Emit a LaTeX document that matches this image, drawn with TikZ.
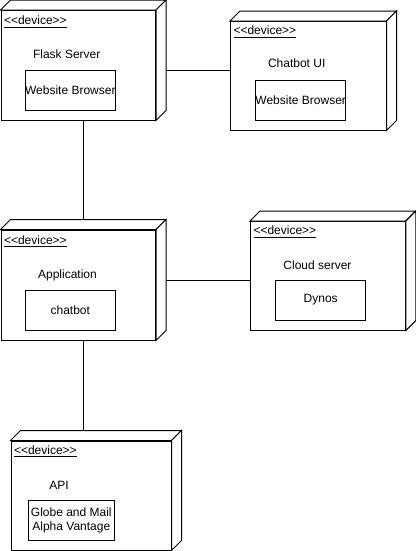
\documentclass[tikz,border=0pt]{standalone}
\usepackage{fontspec}
\setmainfont{Liberation Sans}
\usetikzlibrary{calc,fit}
% three-dimensional node faces (top and right side) behind a front rectangle
\newcommand\devfaces[1]{%
  \draw[fill=white] (#1.north west) -- ++(10,-10) -- ($(#1.north east)+(10,-10)$) -- (#1.north east) -- cycle;
  \draw[fill=white] (#1.north east) -- ++(10,-10) -- ($(#1.south east)+(10,-10)$) -- (#1.south east) -- cycle;}
\newcommand\stereotype{\underline{<\kern0pt<device>\kern0pt>}}
\begin{document}
\begin{tikzpicture}[x=0.75pt,y=-0.75pt,line width=0.75pt,
  every node/.style={font=\fontsize{9pt}{10.5pt}\selectfont},
  devfront/.style={draw,fill=white,inner sep=0pt},
  inbox/.style={draw,fill=white,inner sep=0pt,minimum width=67.5pt,minimum height=30pt},
  stereo/.style={anchor=west,inner sep=0pt},
  title/.style={inner sep=0pt},
  link/.style={draw}]
\useasboundingbox (0,0) rectangle (416,551);

% device nodes
\node[devfront,fit={(1,10.5) (155.5,120)}] (flask) {};
\devfaces{flask}
\node[devfront,fit={(230.5,21.5) (386,130)}] (ui) {};
\devfaces{ui}
\node[devfront,fit={(1,230) (155.5,340)}] (app) {};
\devfaces{app}
\node[devfront,fit={(250.5,221.5) (405.3,330)}] (cloud) {};
\devfaces{cloud}
\node[devfront,fit={(11,441) (171,550)}] (api) {};
\devfaces{api}

% stereotypes
\node[stereo] (s1) at ($(flask.north west)+(3,12)$) {\stereotype};
\node[stereo] (s2) at ($(ui.north west)+(3,11)$) {\stereotype};
\node[stereo] (s3) at ($(app.north west)+(3,12)$) {\stereotype};
\node[stereo] (s4) at ($(cloud.north west)+(3,11)$) {\stereotype};
\node[stereo] (s5) at ($(api.north west)+(3,11)$) {\stereotype};

% titles
\node[title] (t1) at (66.7,54) {Flask Server};
\node[title] (t2) at (296.7,63.5) {Chatbot UI};
\node[title] (t3) at (67.5,275) {Application};
\node[title] (t4) at (317.5,265) {Cloud server};
\node[title] (t5) at (59,485) {API};

% inner components
\node[inbox] (b1) at (70.3,90) {\makebox[0pt]{Website Browser}};
\node[inbox] (b2) at (300.7,100) {\makebox[0pt]{Website Browser}};
\node[inbox] (b3) at (70.3,310) {chatbot};
\node[inbox] (b4) at (320.7,300) {Dynos};
\node[inbox,minimum width=64.5pt,align=center] (b5) at (71.3,520) {Globe and Mail\\Alpha Vantage};

% connectors
\coordinate (c1) at ($(flask.south)+(5,0)$);
\coordinate (c2) at ($(app.north)+(0,-10)$);
\draw[link] (c1) -- (c1 |- c2);
\coordinate (c3) at ($(app.south)+(5,0)$);
\coordinate (c4) at ($(api.north)+(0,-10)$);
\draw[link] (c3) -- (c3 |- c4);
\coordinate (c5) at ($(flask.east)+(10,5)$);
\draw[link] (c5) -- (c5 -| ui.west);
\coordinate (c6) at ($(app.east)+(10,-5)$);
\draw[link] (c6) -- (c6 -| cloud.west);
\end{tikzpicture}
\end{document}
